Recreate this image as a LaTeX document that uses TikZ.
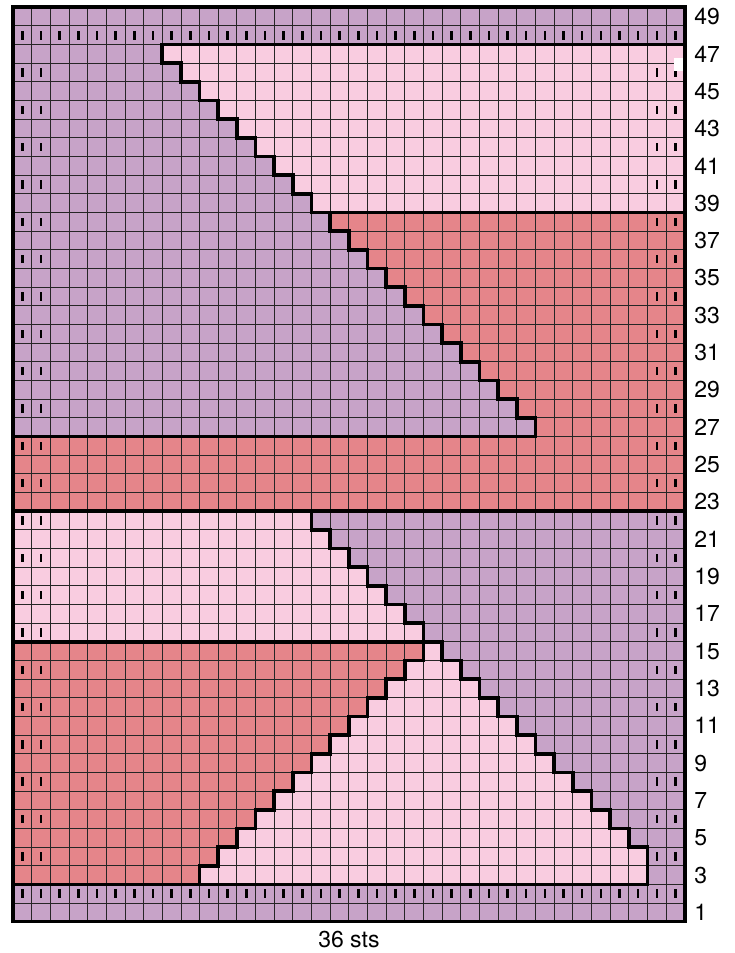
\documentclass[tikz,border=0pt]{standalone}
\usepackage{fontspec}
\setmainfont{TeX Gyre Heros}
\definecolor{lilac}{RGB}{199,163,200}
\definecolor{lightpink}{RGB}{249,204,224}
\definecolor{salmon}{RGB}{229,133,138}
\begin{document}
\begin{tikzpicture}[x=18.65pt,y=18.65pt,
  gridline/.style={line width=0.9pt, draw=black!85},
  bold/.style={line width=3.6pt, line join=miter},
  lbl/.style={anchor=west, inner sep=0pt, font=\fontsize{23}{27}\selectfont},
  captxt/.style={anchor=center, inner sep=0pt, font=\fontsize{23}{27}\selectfont},
  purl/.style={fill=black}]
\useasboundingbox (-0.697,-1.678) rectangle (38.66,49.391);
% colour fields
\fill[lilac] (0,0) rectangle (36,49);
\fill[salmon] (0,22) rectangle (36,26);
\foreach \rw in {27,...,38} \fill[salmon] ({55-\rw},\rw-1) rectangle (36,\rw);
\foreach \rw in {39,...,47} \fill[lightpink] ({55-\rw},\rw-1) rectangle (36,\rw);
\foreach \rw in {16,...,22} \fill[lightpink] (0,\rw-1) rectangle ({38-\rw},\rw);
\foreach \rw in {3,...,15} \fill[salmon] (0,\rw-1) rectangle ({\rw+7},\rw);
\foreach \rw in {4,...,15} \fill[lightpink] ({\rw+7},\rw-1) rectangle ({38-\rw},\rw);
\fill[lightpink] (10,2) rectangle (34,3);
% grid
\foreach \c in {1,...,35} \draw[gridline] (\c,0) -- (\c,49);
\foreach \rw in {1,...,48} \draw[gridline] (0,\rw) -- (36,\rw);
% purl marks
\foreach \c in {1,...,36} {
  \fill[purl] (\c-0.5,1.5) ++(-1.3pt,-4.25pt) rectangle ++(2.6pt,8.5pt);
  \fill[purl] (\c-0.5,47.5) ++(-1.3pt,-4.25pt) rectangle ++(2.6pt,8.5pt);
}
\foreach \rw in {4,6,...,46} \foreach \c in {1,2,35,36}
  \fill[purl] (\c-0.5,\rw-0.5) ++(-1.3pt,-4.25pt) rectangle ++(2.6pt,8.5pt);
% outlines
\draw[bold] (36,47) -- (8,47) \foreach \i in {1,...,20} { -- ++(0,-1) -- ++(1,0) } -- ++(0,-1) -- (0,26);
\draw[bold] (16,38) -- (36,38);
\draw[bold] (0,22) -- (36,22);
\draw[bold] (16,22) \foreach \i in {1,...,18} { -- ++(0,-1) -- ++(1,0) } -- ++(0,-2) -- (0,2);
\draw[bold] (0,15) -- (22,15) \foreach \i in {1,...,12} { -- ++(0,-1) -- ++(-1,0) } -- ++(0,-1);
\draw[bold] (0,0) rectangle (36,49);
\fill[white] (35.4,45.58) rectangle (35.9,46.3);
% labels
\foreach \rw in {1,3,...,49} \node[lbl] (n\rw) at (36.5,\rw-0.5) {\rw};
\node[captxt] (sts) at (18,-0.98) {36 sts};
\end{tikzpicture}
\end{document}
